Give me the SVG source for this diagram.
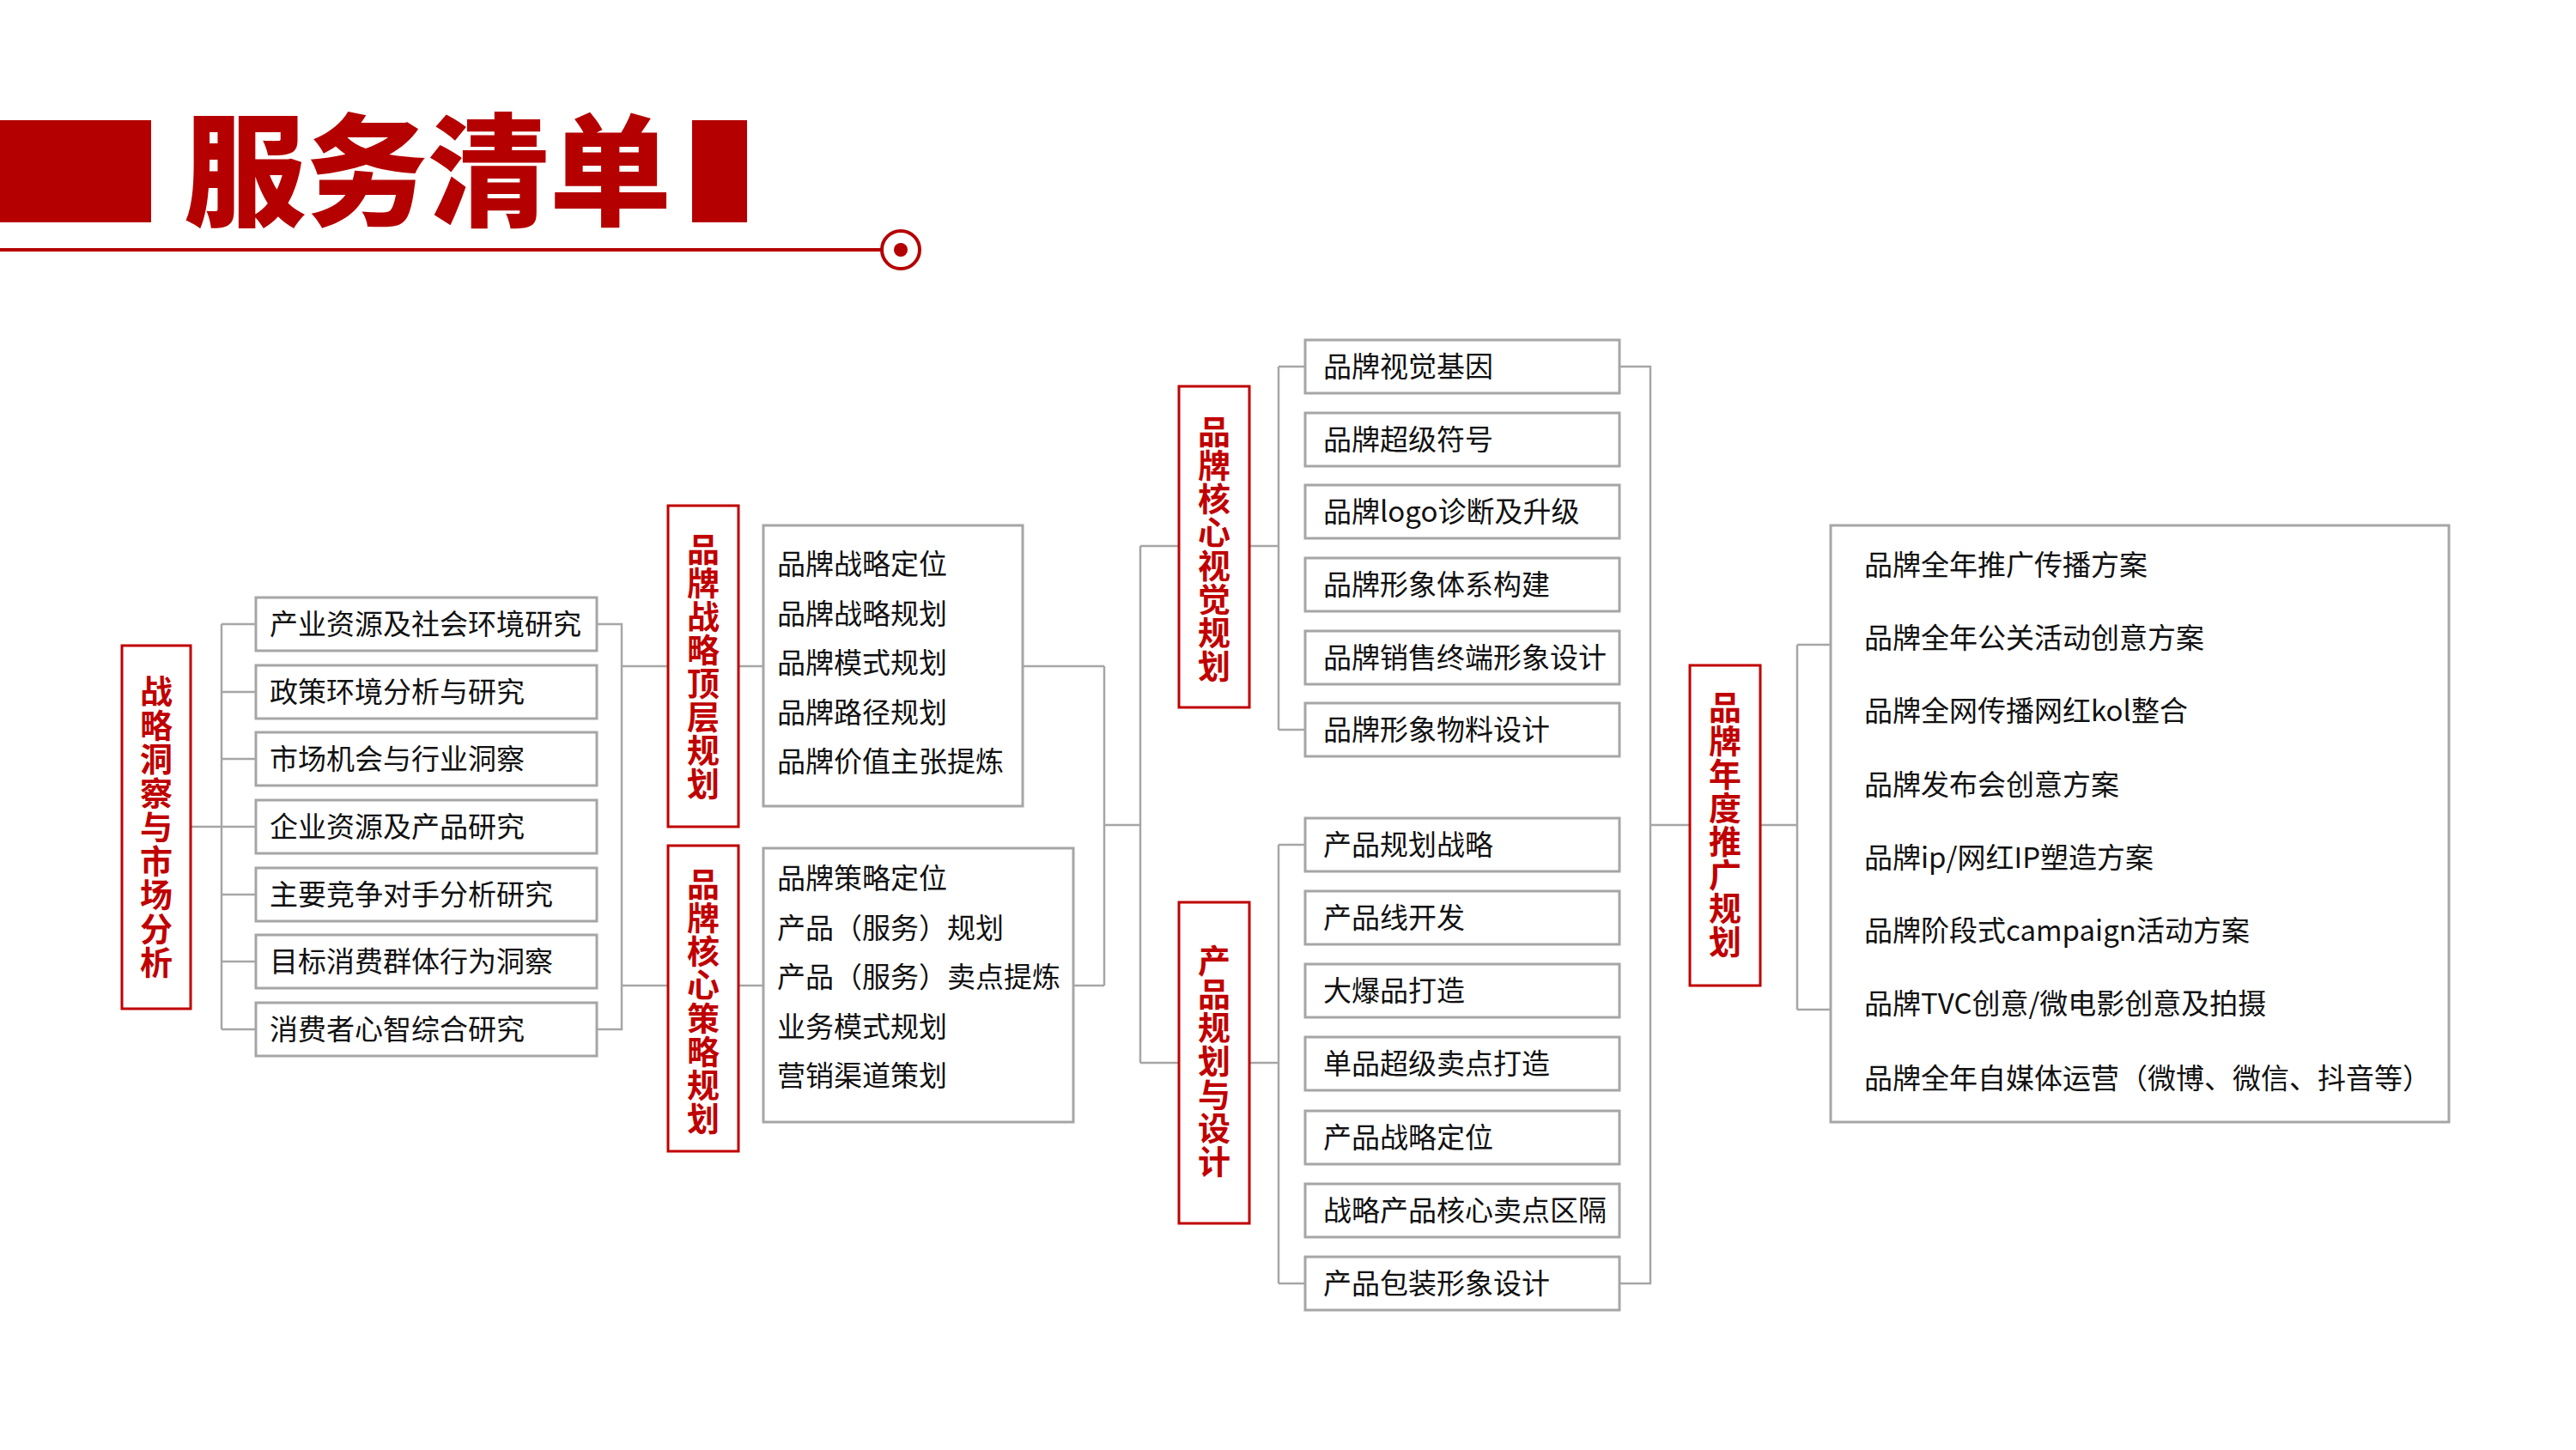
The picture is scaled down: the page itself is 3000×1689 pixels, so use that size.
<svg xmlns="http://www.w3.org/2000/svg" width="3000" height="1689" viewBox="0 0 3000 1689">
<style>
.t{font-family:"Noto Sans CJK SC","Noto Sans",sans-serif;font-size:33px;fill:#111}
.rt{font-family:"Noto Sans CJK SC","Noto Sans",sans-serif;font-size:38px;font-weight:bold;fill:#C00000;text-anchor:middle}
.rb{fill:#fff;stroke:#C00000;stroke-width:3}
.ib{fill:#fff;stroke:#A6A6A6;stroke-width:3}
.c{fill:none;stroke:#A6A6A6;stroke-width:2.5}
</style>
<rect width="3000" height="1689" fill="#fff"/>
<g id="title">
<rect x="0" y="140" width="176" height="119" fill="#B50000"/>
<rect x="806" y="140" width="64" height="119" fill="#B50000"/>
<text x="214" y="252" font-family="Noto Sans CJK SC, sans-serif" font-size="142" font-weight="900" fill="#B50000">服务清单</text>
<line x1="0" y1="291" x2="1027" y2="291" stroke="#B50000" stroke-width="4"/>
<circle cx="1049" cy="291" r="22" fill="#fff" stroke="#B50000" stroke-width="4"/>
<circle cx="1049" cy="291" r="8" fill="#B50000"/>
</g>
<g id="connectors">
<path class="c" d="M222 963H258M258 727V1199M258 727H298M258 806H298M258 884H298M258 963H298M258 1042H298M258 1120H298M258 1199H298"/>
<path class="c" d="M695 727H724V1199H695M724 776H778M724 1148H778"/>
<path class="c" d="M860 776H889M860 1148H889"/>
<path class="c" d="M1191 776H1286M1250 1148H1286M1286 776V1148M1286 961H1328"/>
<path class="c" d="M1328 636V1238M1328 636H1373M1328 1238H1373"/>
<path class="c" d="M1455 636H1489M1489 427V850M1489 427H1520M1489 850H1520"/>
<path class="c" d="M1455 1238H1489M1489 984V1495M1489 984H1520M1489 1495H1520"/>
<path class="c" d="M1886 427H1922V1495H1886M1922 961H1968"/>
<path class="c" d="M2050 961H2093M2093 751V1176M2093 751H2132M2093 1176H2132"/>
</g>
<g id="n-r1">
<rect class="rb" x="142" y="752" width="80" height="423"/>
<text class="rt"><tspan x="182" y="819">战</tspan><tspan x="182" y="858.5">略</tspan><tspan x="182" y="898">洞</tspan><tspan x="182" y="937.5">察</tspan><tspan x="182" y="977">与</tspan><tspan x="182" y="1016.5">市</tspan><tspan x="182" y="1056">场</tspan><tspan x="182" y="1095.5">分</tspan><tspan x="182" y="1135">析</tspan></text>
</g>
<g id="n-g1">
<rect class="ib" x="298" y="696" width="397" height="62"/><text class="t" x="314" y="739">产业资源及社会环境研究</text>
<rect class="ib" x="298" y="775" width="397" height="62"/><text class="t" x="314" y="818">政策环境分析与研究</text>
<rect class="ib" x="298" y="853" width="397" height="62"/><text class="t" x="314" y="896">市场机会与行业洞察</text>
<rect class="ib" x="298" y="932" width="397" height="62"/><text class="t" x="314" y="975">企业资源及产品研究</text>
<rect class="ib" x="298" y="1011" width="397" height="62"/><text class="t" x="314" y="1054">主要竞争对手分析研究</text>
<rect class="ib" x="298" y="1089" width="397" height="62"/><text class="t" x="314" y="1132">目标消费群体行为洞察</text>
<rect class="ib" x="298" y="1168" width="397" height="62"/><text class="t" x="314" y="1211">消费者心智综合研究</text>
</g>
<g id="n-r2">
<rect class="rb" x="778" y="589" width="82" height="374"/>
<text class="rt"><tspan x="819" y="653.5">品</tspan><tspan x="819" y="692.5">牌</tspan><tspan x="819" y="731.5">战</tspan><tspan x="819" y="770.5">略</tspan><tspan x="819" y="809.5">顶</tspan><tspan x="819" y="848.5">层</tspan><tspan x="819" y="887.5">规</tspan><tspan x="819" y="926.5">划</tspan></text>
</g>
<g id="n-a">
<rect class="ib" x="889" y="612" width="302" height="327"/>
<text class="t" x="905" y="669">品牌战略定位</text>
<text class="t" x="905" y="726.5">品牌战略规划</text>
<text class="t" x="905" y="784">品牌模式规划</text>
<text class="t" x="905" y="841.5">品牌路径规划</text>
<text class="t" x="905" y="899">品牌价值主张提炼</text>
</g>
<g id="n-r3">
<rect class="rb" x="778" y="985" width="82" height="356"/>
<text class="rt"><tspan x="819" y="1043.5">品</tspan><tspan x="819" y="1082.5">牌</tspan><tspan x="819" y="1121.5">核</tspan><tspan x="819" y="1160.5">心</tspan><tspan x="819" y="1199.5">策</tspan><tspan x="819" y="1238.5">略</tspan><tspan x="819" y="1277.5">规</tspan><tspan x="819" y="1316.5">划</tspan></text>
</g>
<g id="n-b">
<rect class="ib" x="889" y="988" width="361" height="319"/>
<text class="t" x="905" y="1035">品牌策略定位</text>
<text class="t" x="905" y="1092.5">产品（服务）规划</text>
<text class="t" x="905" y="1150">产品（服务）卖点提炼</text>
<text class="t" x="905" y="1207.5">业务模式规划</text>
<text class="t" x="905" y="1265">营销渠道策划</text>
</g>
<g id="n-r4">
<rect class="rb" x="1373" y="450" width="82" height="374"/>
<text class="rt"><tspan x="1414" y="516.5">品</tspan><tspan x="1414" y="555.5">牌</tspan><tspan x="1414" y="594.5">核</tspan><tspan x="1414" y="633.5">心</tspan><tspan x="1414" y="672.5">视</tspan><tspan x="1414" y="711.5">觉</tspan><tspan x="1414" y="750.5">规</tspan><tspan x="1414" y="789.5">划</tspan></text>
</g>
<g id="n-g3">
<rect class="ib" x="1520" y="396" width="366" height="62"/><text class="t" x="1541" y="439">品牌视觉基因</text>
<rect class="ib" x="1520" y="481" width="366" height="62"/><text class="t" x="1541" y="524">品牌超级符号</text>
<rect class="ib" x="1520" y="565" width="366" height="62"/><text class="t" x="1541" y="608">品牌logo诊断及升级</text>
<rect class="ib" x="1520" y="650" width="366" height="62"/><text class="t" x="1541" y="693">品牌形象体系构建</text>
<rect class="ib" x="1520" y="735" width="366" height="62"/><text class="t" x="1541" y="778">品牌销售终端形象设计</text>
<rect class="ib" x="1520" y="819" width="366" height="62"/><text class="t" x="1541" y="862">品牌形象物料设计</text>
</g>
<g id="n-r5">
<rect class="rb" x="1373" y="1051" width="82" height="374"/>
<text class="rt"><tspan x="1414" y="1133">产</tspan><tspan x="1414" y="1172">品</tspan><tspan x="1414" y="1211">规</tspan><tspan x="1414" y="1250">划</tspan><tspan x="1414" y="1289">与</tspan><tspan x="1414" y="1328">设</tspan><tspan x="1414" y="1367">计</tspan></text>
</g>
<g id="n-g5">
<rect class="ib" x="1520" y="953" width="366" height="62"/><text class="t" x="1541" y="996">产品规划战略</text>
<rect class="ib" x="1520" y="1038" width="366" height="62"/><text class="t" x="1541" y="1081">产品线开发</text>
<rect class="ib" x="1520" y="1123" width="366" height="62"/><text class="t" x="1541" y="1166">大爆品打造</text>
<rect class="ib" x="1520" y="1208" width="366" height="62"/><text class="t" x="1541" y="1251">单品超级卖点打造</text>
<rect class="ib" x="1520" y="1294" width="366" height="62"/><text class="t" x="1541" y="1337">产品战略定位</text>
<rect class="ib" x="1520" y="1379" width="366" height="62"/><text class="t" x="1541" y="1422">战略产品核心卖点区隔</text>
<rect class="ib" x="1520" y="1464" width="366" height="62"/><text class="t" x="1541" y="1507">产品包装形象设计</text>
</g>
<g id="n-r6">
<rect class="rb" x="1968" y="775" width="82" height="373"/>
<text class="rt"><tspan x="2009" y="837.5">品</tspan><tspan x="2009" y="876.5">牌</tspan><tspan x="2009" y="915.5">年</tspan><tspan x="2009" y="954.5">度</tspan><tspan x="2009" y="993.5">推</tspan><tspan x="2009" y="1032.5">广</tspan><tspan x="2009" y="1071.5">规</tspan><tspan x="2009" y="1110.5">划</tspan></text>
</g>
<g id="n-g6">
<rect class="ib" x="2132" y="612" width="720" height="695"/>
<text class="t" x="2171" y="670">品牌全年推广传播方案</text>
<text class="t" x="2171" y="755">品牌全年公关活动创意方案</text>
<text class="t" x="2171" y="840">品牌全网传播网红kol整合</text>
<text class="t" x="2171" y="926">品牌发布会创意方案</text>
<text class="t" x="2171" y="1011">品牌ip/网红IP塑造方案</text>
<text class="t" x="2171" y="1096">品牌阶段式campaign活动方案</text>
<text class="t" x="2171" y="1181">品牌TVC创意/微电影创意及拍摄</text>
<text class="t" x="2171" y="1268">品牌全年自媒体运营（微博、微信、抖音等）</text>
</g>
</svg>
